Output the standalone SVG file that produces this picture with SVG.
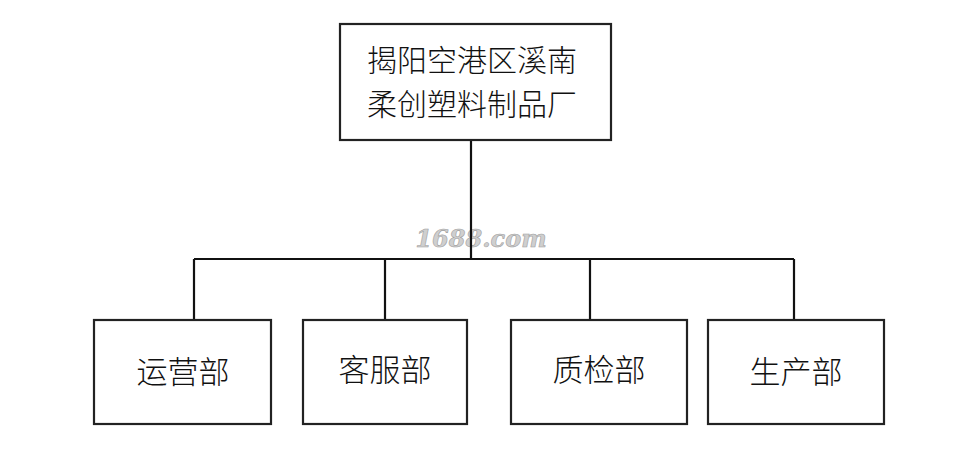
<svg xmlns="http://www.w3.org/2000/svg" width="960" height="474" viewBox="0 0 960 474">
<style>
.box{fill:#fff;stroke:#222;stroke-width:2.2}
.t{font-family:"Noto Sans CJK SC","Noto Sans CJK JP",sans-serif;font-size:31px;fill:#111;text-anchor:middle;font-weight:300}
.t2{font-size:30px}
.wm{font-family:"DejaVu Serif","Liberation Serif",serif;font-style:italic;font-weight:bold;font-size:24px;fill:#cfcfcf;stroke:#a0a0a0;stroke-width:0.6;text-anchor:middle}
.c{fill:none;stroke:#111;stroke-width:2.2}
</style>
<rect width="960" height="474" fill="#fff"/>
<text class="wm" x="481" y="247">1688.com</text>
<g id="connectors">
<path class="c" d="M471 140V259"/>
<path class="c" d="M194 259H794"/>
<path class="c" d="M194 259V320M385 259V320M590 259V320M794 259V320"/>
</g>
<g id="root">
<rect class="box" x="340" y="24" width="271" height="116"/>
<text class="t t2" x="472" y="71">揭阳空港区溪南</text>
<text class="t t2" x="472" y="115">柔创塑料制品厂</text>
</g>
<g id="n1">
<rect class="box" x="94" y="320" width="177" height="104"/>
<text class="t" x="183" y="383">运营部</text>
</g>
<g id="n2">
<rect class="box" x="303" y="320" width="164" height="104"/>
<text class="t" x="385" y="381">客服部</text>
</g>
<g id="n3">
<rect class="box" x="511" y="320" width="176" height="104"/>
<text class="t" x="599" y="381">质检部</text>
</g>
<g id="n4">
<rect class="box" x="708" y="320" width="176" height="104"/>
<text class="t" x="796" y="383">生产部</text>
</g>
</svg>
